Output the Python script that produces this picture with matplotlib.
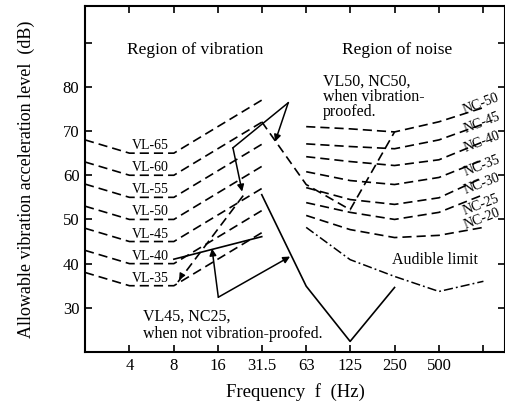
import matplotlib
matplotlib.use('Agg')
import matplotlib.pyplot as plt

plt.rcParams['font.family'] = ['Liberation Serif', 'DejaVu Serif']

# vibration limit curves (acceleration level, dB)
vl_freq = [2, 4, 8, 31.5]
vl_names = ['VL-65', 'VL-60', 'VL-55', 'VL-50', 'VL-45', 'VL-40', 'VL-35']
vl_levels = [
    [68, 65, 65, 77],
    [63, 60, 60, 72],
    [58, 55, 55, 67],
    [53, 50, 50, 62],
    [48, 45, 45, 57],
    [43, 40, 40, 52],
    [38, 35, 35, 47],
]

# noise criteria curves
nc_freq = [63, 125, 250, 500, 1000]
nc_names = ['NC-50', 'NC-45', 'NC-40', 'NC-35', 'NC-30', 'NC-25', 'NC-20']
nc_levels = [
    [71.0, 70.5, 69.8, 72.1, 75.3],
    [67.1, 66.5, 66.0, 68.0, 71.6],
    [64.2, 63.1, 62.2, 63.5, 67.6],
    [60.8, 58.8, 57.9, 59.5, 63.5],
    [57.2, 54.5, 53.4, 54.9, 59.5],
    [53.8, 51.6, 50.0, 51.6, 55.6],
    [50.9, 47.7, 45.9, 46.4, 48.2],
]
nc_label_freq = [968, 975, 980, 980, 975, 968, 975]
nc_label_level = [76.2, 71.8, 67.6, 62.0, 58.0, 53.2, 50.2]

audible_freq = [63, 125, 250, 500, 1000]
audible_level = [48.2, 40.9, 37.1, 33.7, 36.0]

# vibration-proofed case
proof_vib_freq = [23.6, 8.5]
proof_vib_level = [55.4, 35.8]
proof_noise_freq = [31.5, 63, 125, 250]
proof_noise_level = [72.1, 57.9, 52.2, 69.8]

# not vibration-proofed case
raw_vib_freq = [8, 31.5]
raw_vib_level = [41.0, 46.1]
raw_noise_freq = [31.5, 63, 125, 250]
raw_noise_level = [55.6, 34.9, 22.4, 34.6]

# leader lines of the two notes
proof_ptr = (47.6, 76.4)
proof_targets = [(38.8, 67.6)]
proof_bend = (20.1, 66.2)
proof_bend_target = (23.2, 56.3)
raw_ptr = (16.0, 32.4)
raw_targets = [(14.5, 43.4), (49.0, 41.6)]

x_ticks = [4, 8, 16, 31.5, 63, 125, 250, 500, 1000]
x_labels = ['4', '8', '16', '31.5', '63', '125', '250', '500', '']
y_ticks = [30, 40, 50, 60, 70, 80, 90]
y_labels = ['30', '40', '50', '60', '70', '80', '']

fig = plt.figure(figsize=(5.06, 4.03), dpi=100)
ax = fig.add_axes([85 / 506, 51 / 403, 420 / 506, 346 / 403])
ax.set_xscale('log', base=2)
ax.set_xlim(2, 1400)
ax.set_ylim(20, 98.3)

dash = dict(color='black', lw=1.2, linestyle=(0, (5.5, 3)))
for name, lev in zip(vl_names, vl_levels):
    ax.plot(vl_freq, lev, **dash)
    ax.text(5.5, lev[1] + 1.7, name, fontsize=10, ha='center', va='center')

for name, lev, lf, ll in zip(nc_names, nc_levels, nc_label_freq, nc_label_level):
    ax.plot(nc_freq, lev, **dash)
    ax.text(lf, ll, name, fontsize=10, ha='center', va='center', rotation=21)

ax.plot(audible_freq, audible_level, color='black', lw=1.1,
        linestyle=(0, (6, 2, 1.2, 2)))

# vibration-proofed measurements
ax.plot(proof_noise_freq, proof_noise_level, **dash)
ax.plot(proof_vib_freq, proof_vib_level, **dash)
ax.annotate('', xy=(proof_vib_freq[1], proof_vib_level[1]),
            xytext=(9.2, 37.8),
            arrowprops=dict(arrowstyle='-|>', color='black', lw=1, mutation_scale=9))

# not vibration-proofed measurements
ax.plot(raw_vib_freq, raw_vib_level, color='black', lw=1.2)
ax.plot(raw_noise_freq, raw_noise_level, color='black', lw=1.2)

arrow = dict(arrowstyle='-|>', color='black', lw=1.1, mutation_scale=10,
             shrinkA=0, shrinkB=0)
for t in proof_targets:
    ax.annotate('', xy=t, xytext=proof_ptr, arrowprops=arrow)
ax.plot([proof_ptr[0], proof_bend[0]], [proof_ptr[1], proof_bend[1]],
        color='black', lw=1.1)
ax.annotate('', xy=proof_bend_target, xytext=proof_bend, arrowprops=arrow)
for t in raw_targets:
    ax.annotate('', xy=t, xytext=raw_ptr, arrowprops=arrow)

# texts
ax.text(11.2, 88.4, 'Region of vibration', fontsize=12.5, ha='center', va='center')
ax.text(261, 88.4, 'Region of noise', fontsize=12.5, ha='center', va='center')
ax.text(82, 83.0, 'VL50, NC50,\nwhen vibration-\nproofed.', fontsize=11.5,
        ha='left', va='top', linespacing=0.95)
ax.text(4.95, 28.1, 'VL45, NC25,', fontsize=11.5, ha='left', va='center')
ax.text(4.95, 24.0, 'when not vibration-proofed.', fontsize=11.5,
        ha='left', va='center')
ax.text(241, 40.9, 'Audible limit', fontsize=11.5, ha='left', va='center')

ax.set_xticks(x_ticks)
ax.set_xticklabels(x_labels, fontsize=12)
ax.minorticks_off()
ax.set_yticks(y_ticks)
ax.set_yticklabels(y_labels, fontsize=12)
ax.tick_params(direction='in', length=5, width=1.2, top=True, right=True,
               labeltop=False, labelright=False, pad=4)
for s in ax.spines.values():
    s.set_linewidth(1.5)

ax.set_xlabel('Frequency  f  (Hz)', fontsize=13.5, labelpad=7)
ax.set_ylabel('Allowable vibration acceleration level  (dB)', fontsize=13,
              labelpad=20)

fig.savefig('out.png', dpi=100)
